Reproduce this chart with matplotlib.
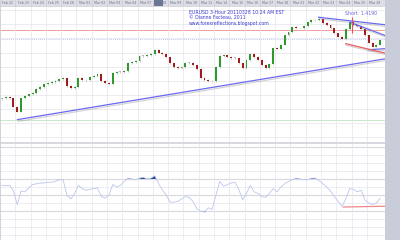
import matplotlib
matplotlib.use("Agg")
import matplotlib.pyplot as plt
import matplotlib.patheffects as pe
import matplotlib.transforms as mtransforms
from matplotlib.patches import Rectangle

# ---------------- data ----------------
first_open = 1.3670
closes = [
    1.3672, 1.3680, 1.3672, 1.3614, 1.3578, 1.3672, 1.3687, 1.3701, 1.3709, 1.3738,
    1.3752, 1.3774, 1.3781, 1.3788, 1.3796, 1.3810, 1.3817, 1.3759, 1.3745, 1.3752,
    1.3817, 1.3803, 1.3803, 1.3825, 1.3832, 1.3846, 1.3796, 1.3781, 1.3774, 1.3854,
    1.3861, 1.3861, 1.3868, 1.3926, 1.3933, 1.3941, 1.3977, 1.3977, 1.3984, 1.3991,
    1.4020, 1.3999, 1.3991, 1.3970, 1.3926, 1.3897, 1.3890, 1.3897, 1.3926, 1.3926,
    1.3912, 1.3883, 1.3817, 1.3803, 1.3796, 1.3796, 1.3897, 1.3977, 1.3984, 1.3970,
    1.3962, 1.3962, 1.3926, 1.3890, 1.3948, 1.3991, 1.3970, 1.3948, 1.3912, 1.3890,
    1.3919, 1.4035, 1.4028, 1.4057, 1.4122, 1.4143, 1.4180, 1.4172, 1.4172, 1.4187,
    1.4216, 1.4230, 1.4230, 1.4238, 1.4209, 1.4194, 1.4172, 1.4136, 1.4114, 1.4093,
    1.4165, 1.4216, 1.4194, 1.4187, 1.4165, 1.4122, 1.4071, 1.4042, 1.4057, 1.4086,
]
oscillator = [
    62, 62, 62, 55, 38, 55, 54, 59, 63, 64,
    65, 65, 66, 66, 67, 69, 69, 50, 45, 52,
    62, 58, 56, 57, 58, 59, 48, 46, 50, 63,
    60, 62, 67, 71, 70, 69, 71, 72, 70, 71,
    74, 64, 56, 50, 41, 41, 42, 45, 48, 47,
    42, 33, 30, 29, 34, 32, 50, 67, 61, 63,
    65, 66, 57, 44, 52, 62, 54, 52, 48, 47,
    52, 58, 54, 60, 64, 67, 69, 71, 70, 69,
    69, 71, 71, 68, 64, 60, 55, 48, 42, 36,
    45, 58, 57, 54, 56, 44, 40, 38, 40, 46,
]
days = ["Feb 22", "Feb 23", "Feb 24", "Feb 25", "Feb 28", "Mar 01", "Mar 02", "Mar 03",
        "Mar 04", "Mar 07", "Mar 08", "Mar 09", "Mar 10", "Mar 11", "Mar 14", "Mar 15",
        "Mar 16", "Mar 17", "Mar 18", "Mar 21", "Mar 22", "Mar 23", "Mar 24", "Mar 25",
        "Mar 28"]
bars_per_day = 4
price_ticks = [1.34, 1.35, 1.36, 1.37, 1.38, 1.39, 1.40, 1.41, 1.42, 1.43]
osc_ticks = [0, 10, 20, 30, 40, 50, 60, 70, 80, 90, 100, 110]
osc_levels = [30, 50, 70]

# trend lines: (bar index pair, price pair)
support_x, support_y = [3.9, 100.3], [1.3520, 1.3955]
upper1_x, upper1_y = [82.7, 101.6], [1.4252, 1.4194]
upper2_x, upper2_y = [91.1, 101.0], [1.4216, 1.4114]
red_x, red_y = [89.8, 101.0], [1.4064, 1.3991]
small_x, small_y = [95.8, 100.8], [1.4020, 1.4028]
red_hline = 1.4158
blue_hline = 1.4093
green_hline = 1.3517
short_price = 1.4190
short_bar = 91.6
osc_red_x, osc_red_y = [89.3, 101.0], [35, 36]
current_price = 1.4086
current_osc = 46

# ---------------- figure ----------------
fig = plt.figure(figsize=(4, 2.4), dpi=100)
W = 385 / 400
fig.patches.append(Rectangle((W, 0), 1 - W, 1, transform=fig.transFigure,
                             facecolor="#c9cdd9", edgecolor="none", zorder=0))

xlim = (-0.52, 100.26)
n = len(closes)
xs = list(range(n))
opens = [first_open] + closes[:-1]
day_pos = [k * bars_per_day - 0.5 for k in range(len(days))]

# --- price panel ---
ax = fig.add_axes([0, 1 - 142 / 240, W, 136 / 240])
ax.set_xlim(*xlim)
ax.set_ylim(1.3361, 1.4332)
ax.set_facecolor("white")
ax.set_xticks(day_pos)
ax.set_xticklabels([])
ax.set_yticks(price_ticks)
ax.set_yticklabels(["" if abs(p - current_price) < 0.003 else "%.4f" % p for p in price_ticks])
ax.yaxis.tick_right()
ax.tick_params(axis="y", length=0, pad=1.2, labelsize=2.5, labelcolor="#555566")
ax.tick_params(axis="x", length=0)
ax.grid(True, color="#e3e3ea", lw=0.5)
for s in ax.spines.values():
    s.set_color("#c8c8d0")
    s.set_linewidth(0.5)

ax.axhline(red_hline, color="#f0a0a0", lw=0.7, zorder=1)
ax.axhline(blue_hline, color="#a8b8ee", lw=0.6, ls=(0, (1, 1.5)), zorder=1)
ax.axhline(green_hline, color="#c8e8c8", lw=0.7, zorder=1)

WICK = 0.0006
for x, o, c in zip(xs, opens, closes):
    lo, hi = min(o, c), max(o, c)
    ax.vlines(x, lo - WICK, hi + WICK, color="#b0b0b0", lw=0.45, zorder=2)
    if c - o > 0.0004:
        col = "#2e9a2e"
    elif o - c > 0.0004:
        col = "#a01c1c"
    else:
        col = "#b8b8b8"
    h = max(hi - lo, 0.00035)
    ax.bar(x, h, bottom=lo, width=0.5, color=col, lw=0, zorder=3)

shadow = [pe.SimpleLineShadow(offset=(0.6, -1.2), shadow_color="#888888", alpha=0.35),
          pe.Normal()]
for lx, ly, col in [(support_x, support_y, "#6a6af0"),
                    (upper1_x, upper1_y, "#6a6af0"),
                    (upper2_x, upper2_y, "#6a6af0"),
                    (small_x, small_y, "#6a6af0"),
                    (red_x, red_y, "#e85a5a")]:
    ax.plot(lx, ly, color=col, lw=0.9, path_effects=shadow, zorder=4,
            solid_capstyle="butt")

ax.vlines(short_bar, short_price - 0.0050, short_price + 0.0060, color="#e85050", lw=0.8, zorder=4)
ax.text(short_bar - 1.8, 1.4263, "Short  1.4190", fontsize=3.4, color="#6a6ae0",
        ha="left", va="bottom", zorder=5)

ax.text(49.0, 1.4270, "EURUSD 3-Hour 20110328 10:24 AM EST", fontsize=3.3,
        color="#3a3ad0", ha="left", va="bottom")
ax.text(49.0, 1.4232, "\u00a9 Dianne Facteau, 2011", fontsize=3.3,
        color="#3a3ad0", ha="left", va="bottom")
ax.text(49.0, 1.4190, "www.forexreflections.blogspot.com", fontsize=3.3,
        color="#3a3ad0", ha="left", va="bottom")

trans_p = mtransforms.blended_transform_factory(ax.transAxes, ax.transData)
ax.text(1.003, current_price, "%.4f" % current_price, transform=trans_p, fontsize=2.5,
        color="white", ha="left", va="center",
        bbox=dict(boxstyle="square,pad=0.2", fc="#5a6690", ec="none"), clip_on=False)

# --- top date strip ---
axt = fig.add_axes([0, 234 / 240, W, 6 / 240])
axt.set_xlim(*xlim)
axt.set_ylim(0, 1)
axt.set_facecolor("#dcdde6")
axt.set_xticks([])
axt.set_yticks([])
for s in axt.spines.values():
    s.set_visible(False)
axt.add_patch(Rectangle((39.8, 0), 2.3, 1, facecolor="#6a7898", edgecolor="none"))
for p, d in zip(day_pos, days):
    axt.axvline(p, color="#c4c4cc", lw=0.4)
    axt.text(p + 0.6, 0.5, d, fontsize=2.3, color="#707080", ha="left", va="center")

# --- oscillator panel ---
ax2 = fig.add_axes([0, 0, W, 97 / 240])
ax2.set_xlim(*xlim)
ax2.set_ylim(-6.25, 115)
ax2.set_facecolor("white")
ax2.set_xticks(day_pos)
ax2.set_xticklabels([])
ax2.set_yticks(osc_ticks)
ax2.set_yticklabels(["" if abs(v - current_osc) < 5 else "%.2f" % v for v in osc_ticks])
ax2.yaxis.tick_right()
ax2.tick_params(axis="y", length=0, pad=1.2, labelsize=2.5, labelcolor="#555566")
ax2.tick_params(axis="x", length=0)
ax2.grid(True, color="#e6e6ee", lw=0.5)
for s in ax2.spines.values():
    s.set_color("#c8c8d0")
    s.set_linewidth(0.5)
for lv in osc_levels + [110]:
    ax2.axhline(lv, color="#bdbdbd", lw=0.8, zorder=1)

ax2.plot(xs, oscillator, color="#b6c2ea", lw=0.55, zorder=3)
ax2.fill_between(xs, 70, oscillator, where=[v > 70 for v in oscillator],
                 interpolate=True, color="#2a4a96", lw=0, zorder=2)
ax2.fill_between(xs, 30, oscillator, where=[v < 30 for v in oscillator],
                 interpolate=True, color="#2a4a96", lw=0, zorder=2)
ax2.plot(osc_red_x, osc_red_y, color="#f08888", lw=0.9, zorder=4)

trans_o = mtransforms.blended_transform_factory(ax2.transAxes, ax2.transData)
ax2.text(1.003, current_osc, "%.2f" % current_osc, transform=trans_o, fontsize=2.5,
         color="white", ha="left", va="center",
         bbox=dict(boxstyle="square,pad=0.2", fc="#5a6690", ec="none"), clip_on=False)

fig.savefig("out.png", dpi=100)
